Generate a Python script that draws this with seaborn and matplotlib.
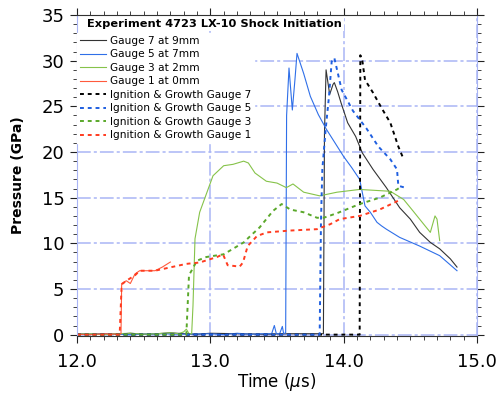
import numpy as np
import pandas as pd
import seaborn as sns
import matplotlib
matplotlib.use('Agg')
import matplotlib.pyplot as plt
from matplotlib.ticker import MultipleLocator

# Experimental gauges (solid)
t_g7 = [12.0, 12.1, 12.2, 12.3, 12.4, 12.5, 12.6, 12.7, 12.8, 12.9, 13.0, 13.2, 13.4, 13.6, 13.8,
        13.848, 13.856, 13.868, 13.895, 13.92, 13.93, 13.955, 13.98, 14.03, 14.09, 14.14, 14.22,
        14.32, 14.42, 14.50, 14.57, 14.65, 14.72, 14.80, 14.85]
p_g7 = [0.1, 0.0, 0.1, 0.05, 0.15, 0.05, 0.1, 0.2, 0.1, 0.05, 0.15, 0.1, 0.05, 0.1, 0.1,
        0.1, 22.0, 29.0, 26.3, 27.4, 27.6, 26.6, 25.4, 23.2, 21.7, 19.9, 18.1,
        16.1, 13.9, 12.65, 11.2, 10.1, 9.4, 8.3, 7.4]

t_g5 = [12.0, 12.2, 12.4, 12.6, 12.8, 13.0, 13.1, 13.2, 13.3, 13.4, 13.46, 13.48, 13.495, 13.52,
        13.54, 13.55, 13.565, 13.572, 13.59, 13.615, 13.635, 13.65, 13.70, 13.75, 13.81, 13.87,
        13.935, 14.0, 14.06, 14.12, 14.16, 14.2, 14.25, 14.285, 14.32, 14.42, 14.57, 14.72, 14.85]
p_g5 = [0.05, 0.1, 0.0, 0.1, 0.05, 0.1, 0.0, 0.15, 0.05, 0.1, 0.1, 1.0, 0.1, 0.1,
        0.9, 0.1, 0.2, 24.0, 29.2, 24.6, 28.0, 30.8, 28.6, 26.1, 24.1, 22.5,
        21.0, 19.5, 18.3, 17.0, 14.1, 13.4, 12.3, 11.9, 11.55, 10.65, 9.7, 8.65, 7.0]

t_g3 = [12.0, 12.1, 12.2, 12.3, 12.4, 12.5, 12.6, 12.7, 12.76, 12.8, 12.82, 12.84, 12.86, 12.87,
        12.885, 12.92, 12.97, 13.02, 13.10, 13.17, 13.25, 13.285, 13.335, 13.42, 13.50, 13.57,
        13.62, 13.70, 13.82, 13.95, 14.12, 14.35, 14.45, 14.52, 14.60, 14.65, 14.685, 14.70, 14.72]
p_g3 = [0.05, 0.1, 0.0, 0.1, 0.15, 0.05, 0.1, 0.2, 0.1, 0.3, 0.6, 0.1, 0.1, 3.2,
        10.5, 13.4, 15.4, 17.4, 18.5, 18.65, 19.0, 18.8, 17.7, 16.8, 16.6, 16.1,
        16.5, 15.6, 15.2, 15.6, 15.9, 15.7, 14.8, 13.55, 12.1, 11.2, 13.0, 12.65, 10.3]

t_g1 = [12.0, 12.1, 12.2, 12.3, 12.33, 12.335, 12.37, 12.40, 12.435, 12.47, 12.51, 12.585, 12.64, 12.70]
p_g1 = [0.05, 0.0, 0.1, 0.05, 0.1, 5.6, 5.9, 5.6, 6.65, 7.0, 7.0, 7.0, 7.4, 7.95]

# Ignition & Growth model (dashed)
t_ig7 = [12.0, 14.12, 14.125, 14.14, 14.16, 14.22, 14.285, 14.35, 14.41, 14.45]
p_ig7 = [0.0, 0.0, 30.6, 30.0, 27.9, 26.5, 24.8, 23.2, 20.6, 19.2]

t_ig5 = [12.0, 13.82, 13.83, 13.84, 13.865, 13.89, 13.91, 13.93, 13.985, 14.07, 14.17, 14.26,
         14.35, 14.40, 14.41, 14.46]
p_ig5 = [0.0, 0.0, 12.6, 18.1, 22.5, 26.1, 29.9, 30.3, 26.8, 24.5, 22.6, 20.6,
         19.2, 18.1, 16.3, 16.1]

t_ig3 = [12.0, 12.82, 12.84, 12.90, 12.97, 13.10, 13.17, 13.25, 13.30, 13.37, 13.47, 13.535,
         13.60, 13.70, 13.80, 13.85, 13.95, 14.12, 14.27, 14.40, 14.42]
p_ig3 = [0.0, 0.0, 6.5, 8.1, 8.5, 8.8, 9.4, 10.1, 10.8, 11.75, 13.55, 14.3,
         13.7, 13.4, 12.8, 12.8, 13.3, 14.3, 15.0, 15.9, 16.1]

t_ig1 = [12.0, 12.32, 12.335, 12.37, 12.435, 12.47, 12.585, 12.71, 12.82, 12.92, 13.05, 13.095,
         13.13, 13.22, 13.245, 13.28, 13.35, 13.425, 13.60, 13.80, 13.90, 13.97, 14.12, 14.27,
         14.40, 14.42]
p_ig1 = [0.0, 0.0, 5.5, 5.9, 6.5, 7.0, 7.0, 7.4, 7.75, 7.9, 8.5, 8.8,
         7.6, 7.45, 7.9, 9.7, 10.8, 11.2, 11.4, 11.55, 12.1, 12.65, 13.0, 13.7,
         14.6, 14.8]

x_ticks = [12.0, 13.0, 14.0, 15.0]
x_ticklabels = ['12.0', '13.0', '14.0', '15.0']
y_ticks = [0, 5, 10, 15, 20, 25, 30, 35]

series = [
    ('Gauge 7 at 9mm', t_g7, p_g7, '#333333', 0.8, '-'),
    ('Gauge 5 at 7mm', t_g5, p_g5, '#2f6fe8', 0.8, '-'),
    ('Gauge 3 at 2mm', t_g3, p_g3, '#86c34a', 0.8, '-'),
    ('Gauge 1 at 0mm', t_g1, p_g1, '#ff5a3c', 0.8, '-'),
    ('Ignition & Growth Gauge 7', t_ig7, p_ig7, '#000000', 1.4, (0, (2, 2))),
    ('Ignition & Growth Gauge 5', t_ig5, p_ig5, '#1f5fe0', 1.4, (0, (2, 2))),
    ('Ignition & Growth Gauge 3', t_ig3, p_ig3, '#5aa82a', 1.4, (0, (2, 2))),
    ('Ignition & Growth Gauge 1', t_ig1, p_ig1, '#ff3b1f', 1.4, (0, (2, 2))),
]

plt.rcParams['font.family'] = ['DejaVu Sans']

fig = plt.figure(figsize=(5.0, 3.96), dpi=100)
ax = fig.add_axes([0.154, 0.1515, 0.80, 0.8105])

for label, t, p, col, lw, ls in series:
    sns.lineplot(x=t, y=p, ax=ax, color=col, lw=lw, linestyle=ls, label=label,
                 sort=False, estimator=None)

ax.set_xlim(12.0, 15.0)
ax.set_ylim(-0.15, 35)
ax.set_xticks(x_ticks, x_ticklabels)
ax.set_yticks(y_ticks)
ax.xaxis.set_minor_locator(MultipleLocator(0.1))
ax.yaxis.set_minor_locator(MultipleLocator(1))

grid_kw = dict(color='#a9b5f5', lw=1.1, linestyle=(0, (9, 2, 2, 2)))
ax.grid(True, which='major', **grid_kw)
ax.grid(False, which='minor')
ax.set_axisbelow(True)

ax.tick_params(which='both', direction='out', top=True, right=True, labelsize=13,
               color='#222222', labelcolor='black')
ax.tick_params(which='major', length=5, width=0.8)
ax.tick_params(which='minor', length=3, width=0.6)
ax.tick_params(axis='x', which='major', pad=7)
ax.tick_params(axis='y', which='major', pad=4)
for side in ['left', 'right']:
    ax.spines[side].set_color('#a9b5f5')
for side in ['top', 'bottom']:
    ax.spines[side].set_color('#333333')
    ax.spines[side].set_linewidth(0.8)

ax.set_xlabel('Time ($\\mu$s)', fontsize=12, labelpad=0)
ax.set_ylabel('Pressure (GPa)', fontsize=10, fontweight='bold', labelpad=12)

leg = ax.legend(loc='upper left', bbox_to_anchor=(0.0, 0.945), fontsize=7.6, frameon=True,
                fancybox=False, framealpha=1, edgecolor='white', facecolor='white',
                handlelength=2.4, handletextpad=0.4, labelspacing=0.33, borderpad=0.3,
                borderaxespad=0.0)
ax.text(0.025, 0.972, 'Experiment 4723 LX-10 Shock Initiation', transform=ax.transAxes,
        fontsize=8.2, fontweight='bold', va='center', ha='left',
        bbox=dict(facecolor='white', edgecolor='none', pad=1.5), zorder=6)

fig.savefig('out.png', dpi=100)
